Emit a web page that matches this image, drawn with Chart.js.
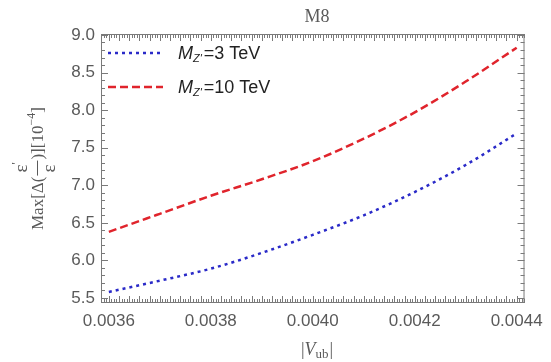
<!DOCTYPE html>
<html>
<head>
<meta charset="utf-8">
<script src="https://cdn.jsdelivr.net/npm/chart.js@4"></script>
<style>
  html, body { margin: 0; padding: 0; background: #fff; }
  #wrap { width: 551px; height: 362px; }
</style>
</head>
<body>
<div id="wrap"><canvas id="c" width="551" height="362"></canvas></div>
<script>
// ---- data ----
const vub = [0.0036, 0.0037, 0.0038, 0.0039, 0.0040, 0.0041, 0.0042, 0.0043, 0.0044];
const mz3TeV  = [5.58, 5.73, 5.89, 6.10, 6.34, 6.60, 6.91, 7.27, 7.69];
const mz10TeV = [6.38, 6.62, 6.86, 7.08, 7.32, 7.62, 7.97, 8.38, 8.83];
const seriesNames = ["3 TeV", "10 TeV"];
const chartTitle = "M8";
const yTicks = [5.5, 6.0, 6.5, 7.0, 7.5, 8.0, 8.5, 9.0];
const xTicks = [0.0036, 0.0038, 0.0040, 0.0042, 0.0044];

const AXIS = '#7a7a7a';
const TXT = '#5a5a5a';
const BLUE = '#2a2ac8';
const RED = '#e0242c';

const pts = (ys) => vub.map((x, i) => ({ x: x, y: ys[i] }));

const frameTicks = {
  id: 'frameTicks',
  afterDraw(chart) {
    const { ctx, chartArea: a, scales } = chart;
    const xs = scales.x, ys = scales.y;
    ctx.save();
    ctx.strokeStyle = AXIS;
    ctx.lineWidth = 1;
    ctx.strokeRect(a.left + 0.5, a.top + 0.5, a.right - a.left - 1, a.bottom - a.top - 1);
    ctx.beginPath();
    for (let k = 54; k <= 90; k++) {
      const v = k / 10;
      const p = Math.round(ys.getPixelForValue(v)) + 0.5;
      if (p < a.top || p > a.bottom) continue;
      const len = (k % 5 === 0) ? 7 : 4;
      ctx.moveTo(a.left, p); ctx.lineTo(a.left + len, p);
      ctx.moveTo(a.right, p); ctx.lineTo(a.right - len, p);
    }
    for (let k = 716; k <= 884; k++) {
      const v = k / 200000;
      const p = Math.round(xs.getPixelForValue(v)) + 0.5;
      if (p < a.left || p > a.right) continue;
      const len = (k % 4 === 0) ? 7 : 4;
      ctx.moveTo(p, a.bottom); ctx.lineTo(p, a.bottom - len);
      ctx.moveTo(p, a.top); ctx.lineTo(p, a.top + len);
    }
    ctx.stroke();

    // legend
    const items = [
      { color: BLUE, dash: [3, 4], y: 53, label: seriesNames[0] },
      { color: RED, dash: [8, 4], y: 87, label: seriesNames[1] }
    ];
    items.forEach(it => {
      ctx.save();
      ctx.strokeStyle = it.color;
      ctx.lineWidth = 2.5;
      ctx.setLineDash(it.dash);
      ctx.beginPath();
      ctx.moveTo(108, it.y); ctx.lineTo(163, it.y);
      ctx.stroke();
      ctx.restore();
      ctx.fillStyle = '#222';
      ctx.textBaseline = 'alphabetic';
      let x = 178;
      const base = it.y + 6;
      ctx.font = 'italic 18px "Liberation Sans", Arial, sans-serif';
      ctx.fillText('M', x, base); x += ctx.measureText('M').width;
      ctx.font = 'italic 11px "Liberation Sans", Arial, sans-serif';
      ctx.fillText("Z'", x, base + 3); x += ctx.measureText("Z'").width + 2;
      ctx.font = '18px "Liberation Sans", Arial, sans-serif';
      ctx.fillText('=' + it.label, x, base);
    });

    // title
    ctx.fillStyle = TXT;
    ctx.font = '18px "Liberation Serif", "Times New Roman", serif';
    ctx.textAlign = 'center';
    ctx.fillText(chartTitle, 317, 22);

    // x title |V_ub|
    ctx.textAlign = 'left';
    const f1 = '18px "Liberation Serif", serif';
    const fi = 'italic 18px "Liberation Serif", serif';
    const fs = '13px "Liberation Serif", serif';
    ctx.font = f1; const wb = ctx.measureText('|').width;
    ctx.font = fi; const wv = ctx.measureText('V').width;
    ctx.font = fs; const wu = ctx.measureText('ub').width;
    const tot = wb * 2 + wv + wu + 1;
    let xx = 317 - tot / 2; const by = 355;
    ctx.font = f1; ctx.fillText('|', xx, by); xx += wb;
    ctx.font = fi; ctx.fillText('V', xx, by); xx += wv;
    ctx.font = fs; ctx.fillText('ub', xx, by + 3); xx += wu + 1;
    ctx.font = f1; ctx.fillText('|', xx, by);

    // y title, rotated
    ctx.save();
    ctx.translate(43, 230);
    ctx.rotate(-Math.PI / 2);
    const F = '17px "Liberation Serif", serif';
    const FE = '19px "Liberation Serif", serif';
    const FS = '12px "Liberation Serif", serif';
    let tx = 0;
    ctx.font = F;
    ctx.fillText('Max[Δ(', tx, 0); tx += ctx.measureText('Max[Δ(').width + 1;
    const fw = 15;
    ctx.font = FE;
    ctx.fillText('ε', tx + 3, -16);
    ctx.font = FS; ctx.fillText("'", tx + 11, -23);
    ctx.fillRect(tx, -6, fw, 1);
    ctx.font = FE;
    ctx.fillText('ε', tx + 3, 12);
    tx += fw + 1;
    ctx.font = F;
    ctx.fillText(')][10', tx, 0); tx += ctx.measureText(')][10').width;
    ctx.font = FS; ctx.fillText('−4', tx, -8); tx += ctx.measureText('−4').width;
    ctx.font = F; ctx.fillText(']', tx, 0);
    ctx.restore();

    ctx.restore();
  }
};

new Chart(document.getElementById('c'), {
  type: 'line',
  data: {
    datasets: [
      { label: seriesNames[0], data: pts(mz3TeV), borderColor: BLUE, borderWidth: 2.5,
        borderDash: [3, 4], pointRadius: 0, fill: false, cubicInterpolationMode: 'monotone' },
      { label: seriesNames[1], data: pts(mz10TeV), borderColor: RED, borderWidth: 2.5,
        borderDash: [8, 4], pointRadius: 0, fill: false, cubicInterpolationMode: 'monotone' }
    ]
  },
  options: {
    responsive: false,
    animation: false,
    layout: { padding: { top: 34, right: 18, left: 0, bottom: 0 } },
    plugins: { legend: { display: false }, title: { display: false }, tooltip: { enabled: false } },
    scales: {
      x: {
        type: 'linear', min: 0.0035846, max: 0.0044154,
        grid: { display: false, drawTicks: false }, border: { display: false },
        afterBuildTicks: (s) => { s.ticks = xTicks.map(v => ({ value: v })); },
        afterFit: (s) => { s.height = 59; },
        ticks: { padding: 8, color: TXT, maxRotation: 0, autoSkip: false,
          font: { family: '"Liberation Sans", Arial, sans-serif', size: 17 },
          callback: (v) => Number(v).toFixed(4) }
      },
      y: {
        type: 'linear', min: 5.433, max: 9.013,
        grid: { display: false, drawTicks: false }, border: { display: false },
        afterBuildTicks: (s) => { s.ticks = yTicks.map(v => ({ value: v })); },
        afterFit: (s) => { s.width = 101; },
        ticks: { padding: 6, color: TXT, autoSkip: false,
          font: { family: '"Liberation Sans", Arial, sans-serif', size: 17 },
          callback: (v) => Number(v).toFixed(1) }
      }
    }
  },
  plugins: [frameTicks]
});
</script>
</body>
</html>
